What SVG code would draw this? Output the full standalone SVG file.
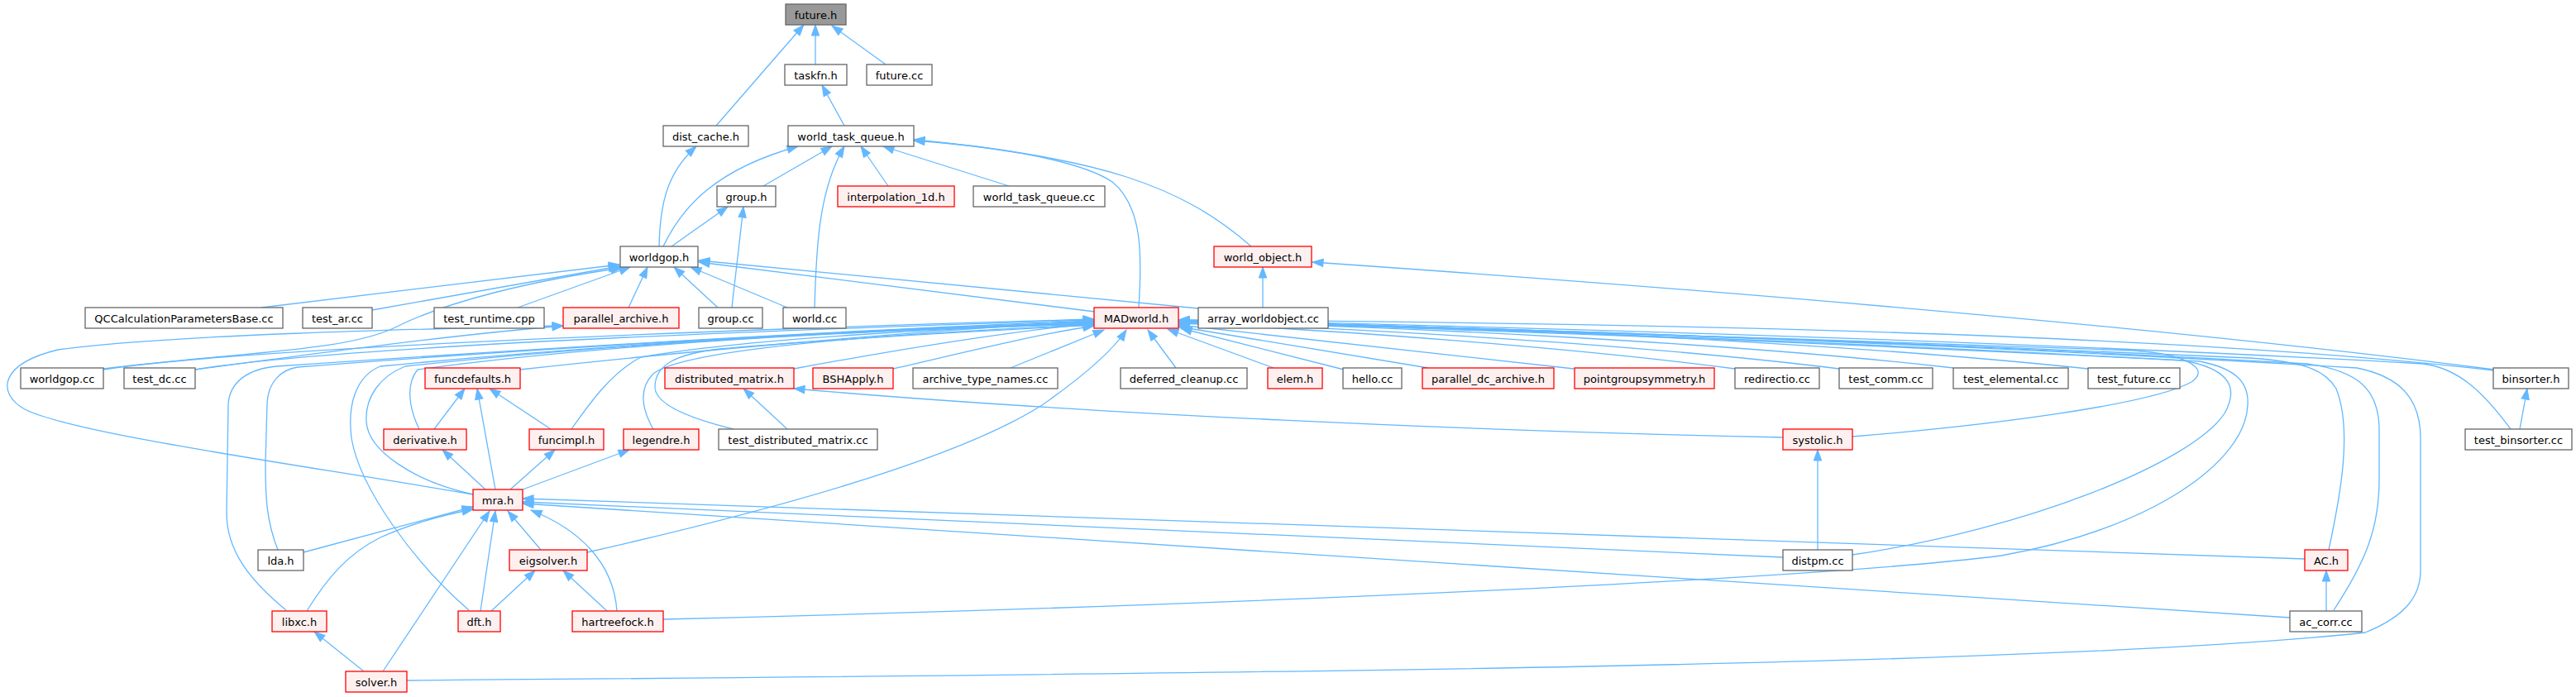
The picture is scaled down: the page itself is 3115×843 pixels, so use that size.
<svg xmlns="http://www.w3.org/2000/svg" width="3115" height="843" viewBox="0 0 3115 843">
<style>
.node rect{fill:#ffffff;stroke:#666666;stroke-width:1.3}
.node.red rect{fill:#fff0f0;stroke:#ff0000}
.node.root rect{fill:#999999;stroke:#666666}
.node text{font-family:"DejaVu Sans","Liberation Sans",sans-serif;font-size:13px;text-anchor:middle;fill:#000000}
#edges path{fill:none;stroke:#63b8ff;stroke-width:1.3;marker-end:url(#arr)}
</style>
<defs>
<marker id="arr" markerUnits="userSpaceOnUse" markerWidth="14" markerHeight="11" refX="13" refY="5" orient="auto" overflow="visible">
<path d="M0,0.3 L13,5 L0,9.7 z" fill="#63b8ff" stroke="#63b8ff" stroke-width="1"/>
</marker>
</defs>
<rect width="3115" height="843" fill="#ffffff"/>
<g id="edges">
<path d="M986,78 L986,30"/>
<path d="M1071,78 L1006,31"/>
<path d="M866,152 L972,30"/>
<path d="M1021,152 L994,103"/>
<path d="M797,298 C798,250 805,210 842,177"/>
<path d="M802,298 C825,250 865,205 965,177"/>
<path d="M923,225 L1006,177"/>
<path d="M985,372 C987,300 990,230 1021,177"/>
<path d="M1074,225 L1041,177"/>
<path d="M1220,225 L1068,177"/>
<path d="M1377,372 C1381,310 1382,250 1345,220 C1300,190 1180,175 1105,170"/>
<path d="M1513,298 C1430,225 1330,190 1105,169"/>
<path d="M812,298 L880,250"/>
<path d="M885,372 L899,250"/>
<path d="M868,372 L815,323"/>
<path d="M952,372 L835,323"/>
<path d="M1324,377 L845,317"/>
<path d="M1449,373 L845,315"/>
<path d="M1527,372 L1527,323"/>
<path d="M3016,447 C2670,403 2194,359 1587,317"/>
<path d="M316,372 L749,320"/>
<path d="M450,375 L749,322"/>
<path d="M626,372 L762,323"/>
<path d="M760,372 L783,323"/>
<path d="M125,446 C300,425 420,425 480,395 C540,365 640,340 752,324"/>
<path d="M572,598 C350,560 90,525 30,495 C-5,475 0,440 70,423 C200,405 500,398 681,394"/>
<path d="M236,447 C400,425 550,405 681,394"/>
<path d="M125,447 C300,420 900,398 1323,386"/>
<path d="M236,447 C400,420 900,400 1323,387"/>
<path d="M629,447 C800,428 1100,400 1323,389"/>
<path d="M960,446 C1100,420 1230,400 1323,391"/>
<path d="M1080,446 C1150,430 1250,405 1323,394"/>
<path d="M1222,445 L1335,399"/>
<path d="M710,668 C900,625 1150,560 1260,490 C1310,455 1345,425 1362,399"/>
<path d="M1422,445 L1388,399"/>
<path d="M1540,445 L1412,398"/>
<path d="M1625,447 L1428,397"/>
<path d="M1727,445 L1425,395"/>
<path d="M1903,446 L1425,393"/>
<path d="M2098,446 C1900,420 1600,398 1425,391"/>
<path d="M2224,446 C2000,418 1650,397 1425,390"/>
<path d="M2362,445 C2100,415 1700,395 1425,389"/>
<path d="M2525,446 C2200,412 1750,393 1425,388"/>
<path d="M3016,448 C2600,400 1900,390 1425,387"/>
<path d="M2240,528 C2400,515 2600,490 2650,462 C2675,445 2640,428 2580,424 C2200,410 1700,395 1425,388"/>
<path d="M2240,671 C2450,640 2650,560 2690,500 C2710,465 2690,445 2640,436 C2200,412 1700,394 1425,389"/>
<path d="M802,749 C1500,732 2200,700 2420,672 C2600,640 2715,560 2718,490 C2720,460 2700,445 2660,437 C2200,414 1700,395 1425,389"/>
<path d="M2816,665 C2830,600 2845,520 2825,470 C2810,445 2780,437 2720,433 C2200,410 1700,393 1425,388"/>
<path d="M2822,738 C2860,680 2877,640 2877,580 L2877,520 C2877,470 2850,448 2790,440 C2300,412 1700,393 1425,388"/>
<path d="M492,823 C1500,815 2500,805 2860,765 C2910,745 2927,720 2927,690 L2927,530 C2927,480 2900,455 2850,445 C2300,412 1700,393 1425,388"/>
<path d="M3036,519 C3000,470 2970,445 2930,440 C2400,410 1700,392 1425,387"/>
<path d="M346,738 C300,700 274,665 274,620 L276,490 C277,462 300,446 335,443 C600,425 1000,400 1323,388"/>
<path d="M336,665 C322,630 321,600 321,560 L323,488 C324,462 340,447 360,444 C600,425 1000,400 1323,389"/>
<path d="M567,738 C500,680 435,590 425,530 C420,490 430,455 460,443 C700,420 1000,400 1323,390"/>
<path d="M572,598 C500,582 445,545 443,510 C441,480 460,455 490,443 C700,420 1000,400 1323,391"/>
<path d="M507,519 C495,495 490,465 505,447 C700,420 1000,400 1323,392"/>
<path d="M691,519 C715,485 740,450 775,432 C900,410 1150,396 1323,392"/>
<path d="M790,519 C776,495 772,470 790,452 C830,420 1100,402 1323,393"/>
<path d="M887,519 C830,505 792,488 792,468 C792,440 820,428 870,422 C1000,410 1200,400 1323,393"/>
<path d="M587,592 L535,544"/>
<path d="M599,592 L577,470"/>
<path d="M617,592 L671,544"/>
<path d="M632,592 L761,544"/>
<path d="M525,519 L562,470"/>
<path d="M666,519 L592,470"/>
<path d="M367,668 L572,613"/>
<path d="M371,739 C395,700 420,670 460,650 C500,632 540,622 572,616"/>
<path d="M440,812 L380,764"/>
<path d="M463,812 L592,618"/>
<path d="M581,739 L599,618"/>
<path d="M594,739 L647,690"/>
<path d="M654,665 L614,618"/>
<path d="M734,739 L681,690"/>
<path d="M746,739 C742,680 700,640 642,617"/>
<path d="M2156,674 L632,607"/>
<path d="M2787,676 L632,603"/>
<path d="M2769,747 L632,609"/>
<path d="M2156,529 C1800,522 1300,500 960,470"/>
<path d="M952,519 L899,470"/>
<path d="M2198,665 L2198,544"/>
<path d="M2813,739 L2813,690"/>
<path d="M3047,519 L3056,470"/>
</g>
<g id="node-future_h" class="node root"><rect x="950" y="5" width="73" height="25"/><text x="986.5" y="22.5">future.h</text></g>
<g id="node-taskfn_h" class="node"><rect x="949" y="78" width="75" height="25"/><text x="986.5" y="95.5">taskfn.h</text></g>
<g id="node-future_cc" class="node"><rect x="1048" y="78" width="79" height="25"/><text x="1087.5" y="95.5">future.cc</text></g>
<g id="node-dist_cache_h" class="node"><rect x="802" y="152" width="103" height="25"/><text x="853.5" y="169.5">dist_cache.h</text></g>
<g id="node-world_task_queue_h" class="node"><rect x="953" y="152" width="152" height="25"/><text x="1029" y="169.5">world_task_queue.h</text></g>
<g id="node-group_h" class="node"><rect x="867" y="225" width="71" height="25"/><text x="902.5" y="242.5">group.h</text></g>
<g id="node-interpolation_1d_h" class="node red"><rect x="1013" y="225" width="141" height="25"/><text x="1083.5" y="242.5">interpolation_1d.h</text></g>
<g id="node-world_task_queue_cc" class="node"><rect x="1177" y="225" width="159" height="25"/><text x="1256.5" y="242.5">world_task_queue.cc</text></g>
<g id="node-worldgop_h" class="node"><rect x="750" y="298" width="94" height="25"/><text x="797" y="315.5">worldgop.h</text></g>
<g id="node-world_object_h" class="node red"><rect x="1468" y="298" width="118" height="25"/><text x="1527" y="315.5">world_object.h</text></g>
<g id="node-QCCalculationParametersBase_cc" class="node"><rect x="103" y="372" width="239" height="25"/><text x="222.5" y="389.5">QCCalculationParametersBase.cc</text></g>
<g id="node-test_ar_cc" class="node"><rect x="366" y="372" width="84" height="25"/><text x="408" y="389.5">test_ar.cc</text></g>
<g id="node-test_runtime_cpp" class="node"><rect x="525" y="372" width="133" height="25"/><text x="591.5" y="389.5">test_runtime.cpp</text></g>
<g id="node-parallel_archive_h" class="node red"><rect x="681" y="372" width="140" height="25"/><text x="751" y="389.5">parallel_archive.h</text></g>
<g id="node-group_cc" class="node"><rect x="845" y="372" width="77" height="25"/><text x="883.5" y="389.5">group.cc</text></g>
<g id="node-world_cc" class="node"><rect x="947" y="372" width="76" height="25"/><text x="985" y="389.5">world.cc</text></g>
<g id="node-MADworld_h" class="node red"><rect x="1323" y="372" width="102" height="25"/><text x="1374" y="389.5">MADworld.h</text></g>
<g id="node-array_worldobject_cc" class="node"><rect x="1449" y="372" width="157" height="25"/><text x="1527.5" y="389.5">array_worldobject.cc</text></g>
<g id="node-worldgop_cc" class="node"><rect x="25" y="445" width="100" height="25"/><text x="75" y="462.5">worldgop.cc</text></g>
<g id="node-test_dc_cc" class="node"><rect x="150" y="445" width="86" height="25"/><text x="193" y="462.5">test_dc.cc</text></g>
<g id="node-funcdefaults_h" class="node red"><rect x="514" y="445" width="115" height="25"/><text x="571.5" y="462.5">funcdefaults.h</text></g>
<g id="node-distributed_matrix_h" class="node red"><rect x="804" y="445" width="156" height="25"/><text x="882" y="462.5">distributed_matrix.h</text></g>
<g id="node-BSHApply_h" class="node red"><rect x="983" y="445" width="97" height="25"/><text x="1031.5" y="462.5">BSHApply.h</text></g>
<g id="node-archive_type_names_cc" class="node"><rect x="1104" y="445" width="175" height="25"/><text x="1191.5" y="462.5">archive_type_names.cc</text></g>
<g id="node-deferred_cleanup_cc" class="node"><rect x="1355" y="445" width="153" height="25"/><text x="1431.5" y="462.5">deferred_cleanup.cc</text></g>
<g id="node-elem_h" class="node red"><rect x="1533" y="445" width="66" height="25"/><text x="1566" y="462.5">elem.h</text></g>
<g id="node-hello_cc" class="node"><rect x="1624" y="445" width="71" height="25"/><text x="1659.5" y="462.5">hello.cc</text></g>
<g id="node-parallel_dc_archive_h" class="node red"><rect x="1720" y="445" width="159" height="25"/><text x="1799.5" y="462.5">parallel_dc_archive.h</text></g>
<g id="node-pointgroupsymmetry_h" class="node red"><rect x="1904" y="445" width="169" height="25"/><text x="1988.5" y="462.5">pointgroupsymmetry.h</text></g>
<g id="node-redirectio_cc" class="node"><rect x="2098" y="445" width="102" height="25"/><text x="2149" y="462.5">redirectio.cc</text></g>
<g id="node-test_comm_cc" class="node"><rect x="2224" y="445" width="113" height="25"/><text x="2280.5" y="462.5">test_comm.cc</text></g>
<g id="node-test_elemental_cc" class="node"><rect x="2362" y="445" width="139" height="25"/><text x="2431.5" y="462.5">test_elemental.cc</text></g>
<g id="node-test_future_cc" class="node"><rect x="2525" y="445" width="111" height="25"/><text x="2580.5" y="462.5">test_future.cc</text></g>
<g id="node-binsorter_h" class="node"><rect x="3015" y="445" width="91" height="25"/><text x="3060.5" y="462.5">binsorter.h</text></g>
<g id="node-derivative_h" class="node red"><rect x="464" y="519" width="100" height="25"/><text x="514" y="536.5">derivative.h</text></g>
<g id="node-funcimpl_h" class="node red"><rect x="640" y="519" width="90" height="25"/><text x="685" y="536.5">funcimpl.h</text></g>
<g id="node-legendre_h" class="node red"><rect x="754" y="519" width="91" height="25"/><text x="799.5" y="536.5">legendre.h</text></g>
<g id="node-test_distributed_matrix_cc" class="node"><rect x="869" y="519" width="192" height="25"/><text x="965" y="536.5">test_distributed_matrix.cc</text></g>
<g id="node-systolic_h" class="node red"><rect x="2156" y="519" width="84" height="25"/><text x="2198" y="536.5">systolic.h</text></g>
<g id="node-test_binsorter_cc" class="node"><rect x="2981" y="519" width="129" height="25"/><text x="3045.5" y="536.5">test_binsorter.cc</text></g>
<g id="node-mra_h" class="node red"><rect x="572" y="592" width="60" height="25"/><text x="602" y="609.5">mra.h</text></g>
<g id="node-lda_h" class="node"><rect x="312" y="665" width="55" height="25"/><text x="339.5" y="682.5">lda.h</text></g>
<g id="node-eigsolver_h" class="node red"><rect x="616" y="665" width="94" height="25"/><text x="663" y="682.5">eigsolver.h</text></g>
<g id="node-distpm_cc" class="node"><rect x="2156" y="665" width="84" height="25"/><text x="2198" y="682.5">distpm.cc</text></g>
<g id="node-AC_h" class="node red"><rect x="2787" y="665" width="52" height="25"/><text x="2813" y="682.5">AC.h</text></g>
<g id="node-libxc_h" class="node red"><rect x="329" y="739" width="66" height="25"/><text x="362" y="756.5">libxc.h</text></g>
<g id="node-dft_h" class="node red"><rect x="554" y="739" width="51" height="25"/><text x="579.5" y="756.5">dft.h</text></g>
<g id="node-hartreefock_h" class="node red"><rect x="692" y="739" width="110" height="25"/><text x="747" y="756.5">hartreefock.h</text></g>
<g id="node-ac_corr_cc" class="node"><rect x="2769" y="739" width="87" height="25"/><text x="2812.5" y="756.5">ac_corr.cc</text></g>
<g id="node-solver_h" class="node red"><rect x="418" y="812" width="74" height="25"/><text x="455" y="829.5">solver.h</text></g>
</svg>
